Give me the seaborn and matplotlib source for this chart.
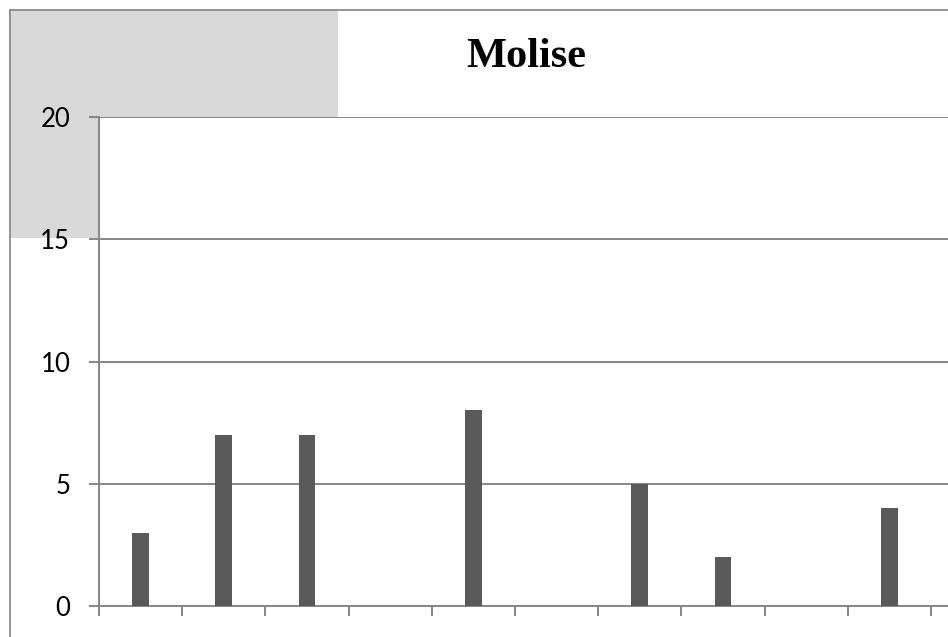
import matplotlib
matplotlib.use("Agg")
import matplotlib.pyplot as plt
import seaborn as sns
import pandas as pd
from matplotlib.patches import Rectangle
from matplotlib.lines import Line2D

# ---- data ----
categories = ["C1", "C2", "C3", "C4", "C5", "C6", "C7", "C8", "C9", "C10"]
values = [3, 7, 7, 0, 8, 0, 5, 2, 0, 4]
y_ticks = [0, 5, 10, 15, 20]
title = "Molise"

sns.set_theme(style="white")
plt.rcParams['font.family'] = ['Lato', 'DejaVu Sans']

W, H = 948, 637
fig = plt.figure(figsize=(W / 100, H / 100), dpi=100)
fig.patch.set_facecolor("white")

def fx(px):
    return px / W

def fy(py):
    return 1 - py / H

# gray block behind the plot area
fig.patches.append(Rectangle((fx(10), fy(238)), fx(338) - fx(10), fy(10) - fy(238),
                             transform=fig.transFigure, facecolor="#d9d9d9",
                             edgecolor="none", zorder=0))
# outer chart border (cropped on right/bottom)
fig.lines.append(Line2D([fx(9.5), fx(9.5)], [fy(9.5), fy(H + 5)], transform=fig.transFigure,
                        color="#8c8c8c", lw=1.3, zorder=1))
fig.lines.append(Line2D([fx(9.5), fx(W + 5)], [fy(9.5), fy(9.5)], transform=fig.transFigure,
                        color="#8c8c8c", lw=1.3, zorder=1))

ax = fig.add_axes([fx(99), fy(606), fx(W) - fx(99), fy(117) - fy(606)])
ax.set_facecolor("white")
ax.set_zorder(2)

df = pd.DataFrame({"cat": categories, "val": values})
sns.barplot(data=df, x="cat", y="val", color="#595959", width=0.2,
            saturation=1, linewidth=0, ax=ax, zorder=3)

ax.set_xlim(-0.5, -0.5 + (W - 99) / 83.2)
ax.set_ylim(0, 20)
ax.set_yticks(y_ticks)
ax.set_yticklabels([str(t) for t in y_ticks])
ax.set_xticks([i - 0.5 for i in range(len(categories) + 1)])
ax.set_xticklabels([])
ax.set_xlabel("")
ax.set_ylabel("")

for y in y_ticks[1:]:
    ax.axhline(y, color="#868686", lw=1.4, zorder=1)

for side in ["top", "right"]:
    ax.spines[side].set_visible(False)
for side in ["left", "bottom"]:
    ax.spines[side].set_visible(True)
    ax.spines[side].set_color("#868686")
    ax.spines[side].set_linewidth(1.4)

ax.tick_params(axis="y", direction="out", length=7.2, width=1.4, color="#868686",
               pad=13.5, labelsize=18.5, labelcolor="black", left=True)
ax.tick_params(axis="x", direction="out", length=7.2, width=1.4, color="#868686",
               bottom=True)

fig.text(fx(526), fy(67), title, ha="center", va="baseline",
         family=["Liberation Serif", "DejaVu Serif"], fontweight="bold",
         fontsize=30.5, color="black")

fig.savefig("out.png", dpi=100)
